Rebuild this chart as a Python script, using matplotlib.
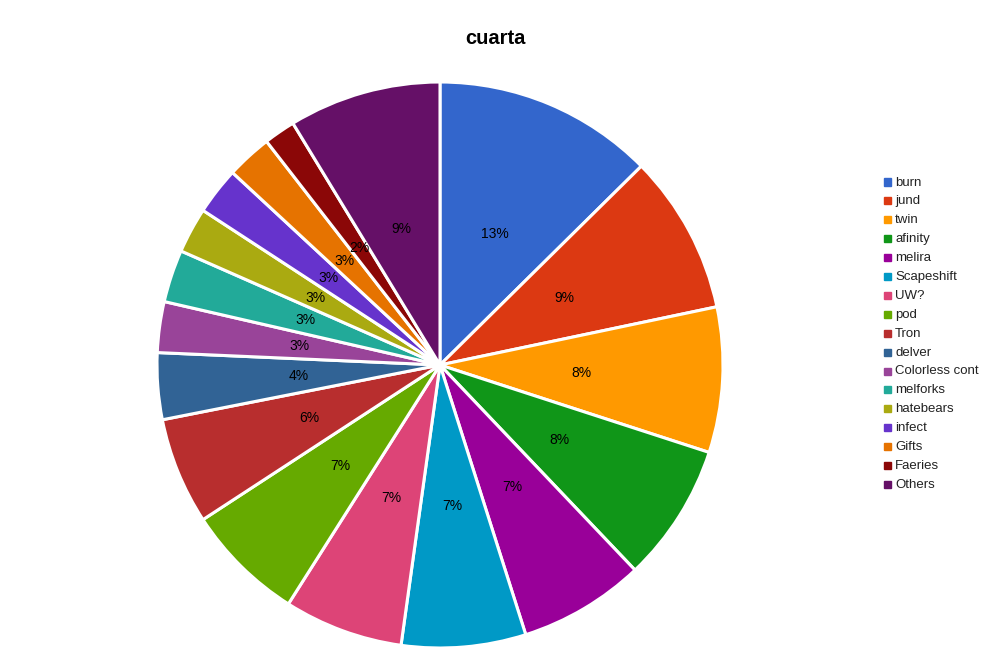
import matplotlib

matplotlib.use("Agg")
import matplotlib.pyplot as plt
from matplotlib.patches import Rectangle

plt.rcParams["font.family"] = ["Liberation Sans", "DejaVu Sans"]

TITLE = "cuarta"
labels = ["burn", "jund", "twin", "afinity", "melira", "Scapeshift", "UW?", "pod",
          "Tron", "delver", "Colorless cont", "melforks", "hatebears", "infect",
          "Gifts", "Faeries", "Others"]
values = [12.6, 9.1, 8.3, 7.9, 7.2, 7.1, 6.8, 6.8, 6.1, 3.8, 2.9, 3.0, 2.6, 2.7, 2.6, 1.8, 8.7]
colors = ["#3366cc", "#dc3912", "#ff9900", "#109618", "#990099", "#0099c6", "#dd4477",
          "#66aa00", "#b82e2e", "#316395", "#994499", "#22aa99", "#aaaa11", "#6633cc",
          "#e67300", "#8b0707", "#651067"]

W, H = 990, 665
fig = plt.figure(figsize=(W / 100, H / 100), dpi=100)

cx, cy, r = 440, 365, 283
ax = fig.add_axes([(cx - r) / W, (H - cy - r) / H, 2 * r / W, 2 * r / H])
ax.pie(values, colors=colors, startangle=90, counterclock=False,
       autopct="%1.0f%%", pctdistance=0.5,
       wedgeprops=dict(edgecolor="white", linewidth=2.2),
       textprops=dict(fontsize=10, color="black"))
ax.set_xlim(-1.0, 1.0)
ax.set_ylim(-1.0, 1.0)
ax.set_aspect("equal")
ax.axis("off")

fig.text(495 / W, 1 - 38 / H, TITLE, ha="center", va="center",
         fontsize=14.5, fontweight="bold")

# legend on the right
y0, step = 182.5, 18.9
for i, (lab, col) in enumerate(zip(labels, colors)):
    y = y0 + i * step
    fig.patches.append(Rectangle((884 / W, 1 - (y + 3) / H), 7 / W, 7 / H,
                                 transform=fig.transFigure, color=col))
    fig.text(895 / W, 1 - y / H, lab, ha="left", va="center", fontsize=9.5, color="#222222")

fig.savefig("out.png", dpi=100)
